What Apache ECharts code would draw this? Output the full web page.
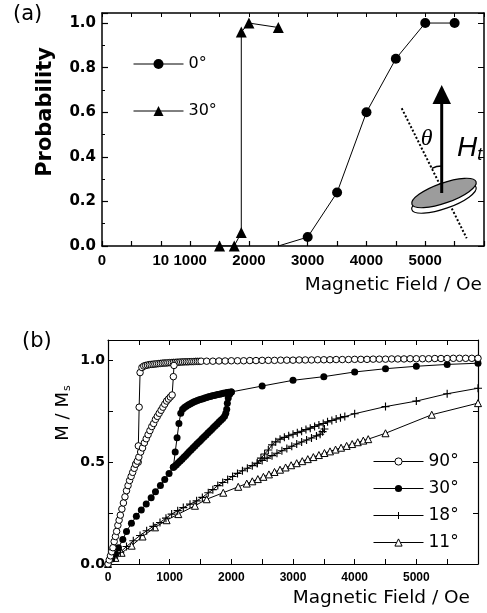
<!DOCTYPE html>
<html>
<head>
<meta charset="utf-8">
<script src="https://cdn.jsdelivr.net/npm/echarts@6.0.0/dist/echarts.min.js"></script>
<style>
html,body{margin:0;padding:0;background:#fff;}
#chart{width:487px;height:613px;}
</style>
</head>
<body>
<div id="chart"></div>
<script>
// ---------- Panel (a): switching probability ----------
const aField0 = [2500, 3000, 3500, 4000, 4500, 5000, 5500];
const aProb0  = [0, 0.04, 0.24, 0.60, 0.84, 1.0, 1.0];
const aField30 = [1500, 1750, 1870, 1870, 2000, 2500];
const aProb30  = [0, 0, 0.06, 0.96, 1.0, 0.98];
const aXTickValues = [-500, 500, 1000, 2000, 3000, 4000, 5000];
const aXTickTexts  = ['0', '10', '1000', '2000', '3000', '4000', '5000'];

// ---------- Panel (b): M/Ms curves ----------
const b90Lower = [[0,0],[20,0.02],[40,0.04],[60,0.06],[80,0.08],[100,0.11],[120,0.135],[140,0.16],[160,0.19],[180,0.215],[200,0.24],[225,0.27],[250,0.30],[275,0.33],[300,0.36],[325,0.385],[350,0.41],[375,0.43],[400,0.45],[425,0.47],[450,0.49],[475,0.505],[500,0.525],[530,0.55],[560,0.57],[590,0.595],[620,0.615],[650,0.635],[680,0.655],[710,0.675],[740,0.69],[770,0.71],[800,0.725],[830,0.74],[860,0.755],[890,0.77],[920,0.785],[950,0.80],[980,0.81],[1010,0.82],[1040,0.83]];
const b90Steep = [[490,0.50],[492,0.58],[505,0.77],[520,0.94],[550,0.965],[580,0.972]];
const b90Top = [[610,0.975],[640,0.977],[670,0.979],[700,0.98],[730,0.981],[760,0.982],[790,0.983],[820,0.984],[850,0.985],[880,0.986],[910,0.987],[940,0.987],[970,0.988],[1000,0.989],[1030,0.989],[1060,0.99],[1090,0.99],[1120,0.991],[1150,0.991],[1180,0.992],[1210,0.992],[1240,0.993],[1270,0.993],[1300,0.993],[1330,0.994],[1360,0.994],[1390,0.994],[1420,0.995],[1450,0.995],[1480,0.995],[1510,0.996],
  [1600,0.996],[1700,0.996],[1800,0.997],[1900,0.997],[2000,0.998],[2100,0.998],[2200,0.998],[2300,0.999],[2400,0.999],[2500,1.0],[2600,1.0],[2700,1.0],[2800,1.001],[2900,1.001],[3000,1.001],[3100,1.002],[3200,1.002],[3300,1.002],[3400,1.003],[3500,1.003],[3600,1.003],[3700,1.004],[3800,1.004],[3900,1.004],[4000,1.005],[4100,1.005],[4200,1.005],[4300,1.006],[4400,1.006],[4500,1.006],[4600,1.007],[4700,1.007],[4800,1.007],[4900,1.008],[5000,1.008],[5100,1.008],[5200,1.008],[5300,1.009],[5400,1.009],[5500,1.009],[5600,1.01],[5700,1.01],[5800,1.01],[5900,1.01],[6000,1.01]];
const b90Jump = [[1060,0.92],[1070,0.975]];

const b30Common = [[0,0],[60,0.025],[120,0.05],[170,0.08],[240,0.12],[300,0.16],[380,0.2],[460,0.235],[540,0.265],[620,0.295],[700,0.325],[770,0.355],[850,0.385],[920,0.415],[990,0.445],[1060,0.475]];
const b30Early = [[1090,0.55],[1120,0.62],[1150,0.69],[1180,0.74],[1210,0.76],[1240,0.768],[1270,0.775],[1300,0.781],[1330,0.786],[1360,0.791],[1390,0.795],[1420,0.799],[1450,0.803],[1480,0.806],[1510,0.809],[1540,0.812],[1570,0.815],[1600,0.818],[1630,0.821],[1660,0.823],[1690,0.826],[1720,0.828],[1750,0.83],[1780,0.832],[1810,0.834],[1840,0.836],[1870,0.838],[1900,0.84],[1930,0.842],[1960,0.843],[2000,0.845],[2500,0.874],[3000,0.902],[3500,0.92],[4000,0.943],[4500,0.959],[5000,0.971],[5500,0.98],[6000,0.986]];
const b30Late = [[1080,0.48],[1110,0.488],[1140,0.497],[1170,0.506],[1200,0.515],[1230,0.524],[1260,0.533],[1290,0.543],[1320,0.552],[1350,0.561],[1380,0.571],[1410,0.58],[1440,0.589],[1470,0.598],[1500,0.607],[1530,0.616],[1560,0.625],[1590,0.634],[1620,0.643],[1650,0.652],[1680,0.661],[1710,0.67],[1740,0.679],[1770,0.688],[1800,0.697],[1830,0.706],[1860,0.715],[1890,0.725],[1910,0.74],[1925,0.76],[1935,0.79],[1950,0.815],[1975,0.835],[2000,0.845]];

const b18Common = [[0,0],[100,0.03],[200,0.058],[300,0.086],[410,0.114],[520,0.14],[627,0.163],[735,0.185],[843,0.204],[940,0.225],[1032,0.245],[1130,0.262],[1221,0.277],[1330,0.294],[1437,0.31],[1530,0.327],[1626,0.35],[1700,0.365],[1780,0.385],[1860,0.40],[1940,0.415],[2020,0.43],[2100,0.445],[2180,0.458],[2260,0.47],[2340,0.483],[2420,0.495]];
const b18Upper = [[2480,0.52],[2540,0.54],[2600,0.56],[2660,0.585],[2720,0.60],[2790,0.613],[2860,0.622],[2930,0.63],[3000,0.637],[3070,0.645],[3140,0.652],[3210,0.66],[3280,0.667],[3350,0.675],[3420,0.683],[3490,0.69],[3560,0.698],[3630,0.705],[3700,0.712],[3770,0.718],[3840,0.724],[4000,0.738],[4500,0.773],[5000,0.80],[5500,0.836],[6000,0.863]];
const b18Lower = [[2500,0.508],[2580,0.52],[2660,0.532],[2740,0.544],[2820,0.556],[2900,0.567],[2980,0.578],[3060,0.589],[3140,0.599],[3220,0.609],[3300,0.619],[3380,0.629],[3440,0.637],[3480,0.65],[3510,0.663]];

const b11 = [[0,0],[120,0.03],[220,0.055],[384,0.09],[560,0.135],[762,0.18],[950,0.215],[1140,0.245],[1410,0.286],[1600,0.318],[1869,0.35],[2112,0.379],[2250,0.395],[2340,0.406],[2430,0.417],[2520,0.428],[2610,0.44],[2700,0.452],[2790,0.463],[2880,0.474],[2970,0.485],[3060,0.495],[3150,0.505],[3240,0.515],[3330,0.525],[3420,0.535],[3510,0.545],[3600,0.553],[3690,0.562],[3780,0.571],[3870,0.58],[3960,0.589],[4050,0.598],[4140,0.606],[4220,0.613],[4500,0.642],[5250,0.733],[6000,0.79]];
const bXTickLabels = [0, 1000, 2000, 3000, 4000, 5000];
const bYTickLabels = [0, 0.5, 1.0];

// ---------- build chart ----------
const chart = echarts.init(document.getElementById('chart'), null, {renderer: 'canvas'});
const BLACK = '#000';
const SANS = 'DejaVu Sans';
const LIB = 'Liberation Sans';
const PLUS = 'path://M4.3,0H5.7V4.3H10V5.7H5.7V10H4.3V5.7H0V4.3H4.3Z';

function pairs(xs, ys) { return xs.map((x, i) => [x, ys[i]]); }

const line = {type: 'line', animation: false, lineStyle: {color: BLACK, width: 1}, emphasis: {disabled: true}};

const a0Data = pairs(aField0, aProb0).map((p, i) => i === 0 ? {value: p, symbol: 'none'} : p);

const axisLine = w => ({show: true, onZero: false, lineStyle: {color: BLACK, width: w}});

const option = {
  backgroundColor: '#fff',
  animation: false,
  grid: [
    {left: 102, top: 13, width: 388, height: 233},
    {left: 108, top: 340, width: 370, height: 224}
  ],
  xAxis: [
    {gridIndex: 0, type: 'value', position: 'bottom', min: -500, max: 6000, interval: 500,
      axisLine: axisLine(1.5), splitLine: {show: false},
      axisTick: {inside: true, length: 5, lineStyle: {color: BLACK, width: 1.2}},
      axisLabel: {margin: 7, color: BLACK, fontFamily: LIB, fontWeight: 'bold', fontSize: 15,
        formatter: v => { const k = aXTickValues.indexOf(v); return k >= 0 ? aXTickTexts[k] : ''; }}},
    {gridIndex: 0, type: 'value', position: 'top', min: -500, max: 6000, interval: 500,
      axisLine: axisLine(1.5), splitLine: {show: false},
      axisTick: {inside: true, length: 4, lineStyle: {color: BLACK}}, axisLabel: {show: false}},
    {gridIndex: 1, type: 'value', position: 'bottom', min: 0, max: 6000, interval: 500,
      axisLine: axisLine(1.2), splitLine: {show: false},
      axisTick: {inside: true, length: 5, lineStyle: {color: BLACK}},
      axisLabel: {margin: 8, color: BLACK, fontFamily: LIB, fontWeight: 'bold', fontSize: 12,
        formatter: v => bXTickLabels.indexOf(v) >= 0 ? String(v) : ''}},
    {gridIndex: 1, type: 'value', position: 'top', min: 0, max: 6000, interval: 500,
      axisLine: axisLine(1.2), splitLine: {show: false},
      axisTick: {inside: true, length: 5, lineStyle: {color: BLACK}}, axisLabel: {show: false}}
  ],
  yAxis: [
    {gridIndex: 0, type: 'value', position: 'left', min: 0, max: 1.045, interval: 0.2,
      axisLine: axisLine(1.5), splitLine: {show: false},
      axisTick: {inside: true, length: 6, lineStyle: {color: BLACK, width: 1.2}},
      minorTick: {show: true, splitNumber: 2, length: 3, lineStyle: {color: BLACK}},
      axisLabel: {margin: 6, color: BLACK, fontFamily: SANS, fontWeight: 'bold', fontSize: 15,
        formatter: v => Math.abs(v * 5 - Math.round(v * 5)) < 1e-6 ? v.toFixed(1) : ''}},
    {gridIndex: 0, type: 'value', position: 'right', min: 0, max: 1.045, interval: 0.2,
      axisLine: axisLine(1.5), splitLine: {show: false},
      axisTick: {inside: true, length: 6, lineStyle: {color: BLACK}}, axisLabel: {show: false}},
    {gridIndex: 1, type: 'value', position: 'left', min: 0, max: 1.1, interval: 0.25,
      axisLine: axisLine(1.2), splitLine: {show: false},
      axisTick: {inside: true, length: 5, lineStyle: {color: BLACK}},
      axisLabel: {margin: 3, color: BLACK, fontFamily: SANS, fontWeight: 'bold', fontSize: 14,
        formatter: v => bYTickLabels.some(t => Math.abs(t - v) < 1e-6) ? v.toFixed(1) : ''}},
    {gridIndex: 1, type: 'value', position: 'right', min: 0, max: 1.1, interval: 0.25,
      axisLine: axisLine(1.2), splitLine: {show: false},
      axisTick: {inside: true, length: 5, lineStyle: {color: BLACK}}, axisLabel: {show: false}}
  ],
  legend: [
    {data: ['0°', '30°'], orient: 'vertical', left: 133, top: 56, padding: 0, itemWidth: 50, itemHeight: 12.5, itemGap: 31,
      selectedMode: false, lineStyle: {width: 1}, itemStyle: {borderWidth: 0},
      textStyle: {color: BLACK, fontFamily: SANS, fontSize: 16}},
    {data: ['90°', '30° ', '18°', '11°'], orient: 'vertical', left: 373, top: 453, padding: 0, itemWidth: 50, itemHeight: 9, itemGap: 10,
      selectedMode: false, formatter: n => n.trim(), lineStyle: {width: 1}, itemStyle: {borderWidth: 1},
      textStyle: {color: BLACK, fontFamily: SANS, fontSize: 17}}
  ],
  series: [
    Object.assign({}, line, {name: '0°', xAxisIndex: 0, yAxisIndex: 0, data: a0Data,
      symbol: 'circle', symbolSize: 10, itemStyle: {color: BLACK}}),
    Object.assign({}, line, {name: '30°', xAxisIndex: 0, yAxisIndex: 0, data: pairs(aField30, aProb30),
      symbol: 'triangle', symbolSize: 11, itemStyle: {color: BLACK}}),

    Object.assign({}, line, {name: '11°', xAxisIndex: 2, yAxisIndex: 2, data: b11,
      symbol: 'triangle', symbolSize: 7, itemStyle: {color: '#fff', borderColor: BLACK, borderWidth: 1}}),
    Object.assign({}, line, {name: '18°', xAxisIndex: 2, yAxisIndex: 2, data: b18Common.concat(b18Upper),
      symbol: PLUS, symbolSize: 8, itemStyle: {color: BLACK}}),
    Object.assign({}, line, {name: '18°', xAxisIndex: 2, yAxisIndex: 2, data: b18Common.slice(-1).concat(b18Lower),
      symbol: PLUS, symbolSize: 8, itemStyle: {color: BLACK}}),
    Object.assign({}, line, {name: '30° ', xAxisIndex: 2, yAxisIndex: 2, data: b30Common.concat(b30Early),
      symbol: 'circle', symbolSize: 7, itemStyle: {color: BLACK}}),
    Object.assign({}, line, {name: '30° ', xAxisIndex: 2, yAxisIndex: 2, data: b30Common.slice(-1).concat(b30Late),
      symbol: 'circle', symbolSize: 7, itemStyle: {color: BLACK}}),
    Object.assign({}, line, {name: '90°', xAxisIndex: 2, yAxisIndex: 2,
      data: b90Lower.filter(p => p[0] <= 450).concat(b90Steep, b90Top),
      symbol: 'circle', symbolSize: 6.5, itemStyle: {color: '#fff', borderColor: BLACK, borderWidth: 1}}),
    Object.assign({}, line, {name: '90°', xAxisIndex: 2, yAxisIndex: 2,
      data: b90Lower.filter(p => p[0] >= 450).concat(b90Jump),
      symbol: 'circle', symbolSize: 6.5, itemStyle: {color: '#fff', borderColor: BLACK, borderWidth: 1}})
  ],
  graphic: [
    {type: 'text', left: 13, top: 4, style: {text: '(a)', fontFamily: SANS, fontSize: 21, fill: BLACK}},
    {type: 'text', left: 22, top: 331, style: {text: '(b)', fontFamily: SANS, fontSize: 21, fill: BLACK}},
    {type: 'text', x: 46, y: 112, rotation: Math.PI / 2,
      style: {text: 'Probability', fontFamily: SANS, fontWeight: 'bold', fontSize: 21, fill: BLACK, align: 'center', verticalAlign: 'middle'}},
    {type: 'text', x: 482, y: 285,
      style: {text: 'Magnetic Field / Oe', fontFamily: SANS, fontSize: 18.5, fill: BLACK, align: 'right', verticalAlign: 'middle'}},
    {type: 'text', x: 470, y: 598,
      style: {text: 'Magnetic Field / Oe', fontFamily: SANS, fontSize: 18.5, fill: BLACK, align: 'right', verticalAlign: 'middle'}},
    {type: 'text', x: 63, y: 413, rotation: Math.PI / 2,
      style: {text: '{m|M / M}{s|s}', align: 'center', verticalAlign: 'middle',
        rich: {m: {fontFamily: SANS, fontSize: 18, fill: BLACK}, s: {fontFamily: SANS, fontSize: 11, fill: BLACK, padding: [9, 0, 0, 1]}}}},
    // inset sketch
    {type: 'line', shape: {x1: 401.7, y1: 108.3, x2: 466.7, y2: 238.3}, style: {stroke: BLACK, lineWidth: 2, lineDash: [2, 2]}},
    {type: 'ellipse', x: 444, y: 198.5, rotation: 0.34, shape: {cx: 0, cy: 0, rx: 34, ry: 10}, style: {fill: '#fff', stroke: BLACK, lineWidth: 1.2}},
    {type: 'ellipse', x: 444, y: 193, rotation: 0.34, shape: {cx: 0, cy: 0, rx: 34, ry: 10}, style: {fill: '#9c9c9c', stroke: BLACK, lineWidth: 1.2}},
    {type: 'line', shape: {x1: 441.7, y1: 193, x2: 441.7, y2: 102}, style: {stroke: BLACK, lineWidth: 3}},
    {type: 'polygon', shape: {points: [[432.5, 104], [451, 104], [441.7, 85]]}, style: {fill: BLACK}},
    {type: 'arc', shape: {cx: 441.7, cy: 188, r: 22, startAngle: -2.034, endAngle: -1.571, clockwise: true}, style: {stroke: BLACK, lineWidth: 1.5, fill: 'none'}},
    {type: 'text', x: 426.7, y: 139, style: {text: 'θ', fontFamily: 'Liberation Serif', fontStyle: 'italic', fontSize: 24, fill: BLACK, align: 'center', verticalAlign: 'middle'}},
    {type: 'text', x: 457, y: 148,
      style: {text: '{h|H}{t|t}', verticalAlign: 'middle',
        rich: {h: {fontFamily: LIB, fontStyle: 'italic', fontSize: 28, fill: BLACK}, t: {fontFamily: LIB, fontStyle: 'italic', fontSize: 18, fill: BLACK, padding: [14, 0, 0, 0]}}}}
  ]
};
chart.setOption(option);
</script>
</body>
</html>
